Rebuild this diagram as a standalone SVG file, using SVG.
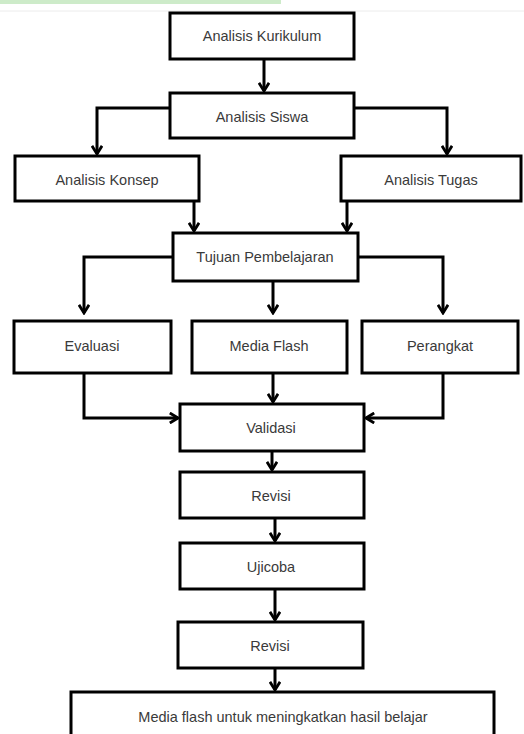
<svg xmlns="http://www.w3.org/2000/svg" width="524" height="734" viewBox="0 0 524 734">
<style>
.box{fill:#fff;stroke:#000;stroke-width:3}
.lbl{font-family:"Liberation Sans",Arial,sans-serif;font-size:14.5px;fill:#3a3a3a;text-anchor:middle}
.con{fill:none;stroke:#000;stroke-width:3;marker-end:url(#arr)}
</style>
<defs>
<marker id="arr" viewBox="0 0 10 10" refX="8.5" refY="5" markerWidth="4.2" markerHeight="4.2" orient="auto" markerUnits="strokeWidth">
<path d="M2,1 L8.5,5 L2,9" fill="none" stroke="#000" stroke-width="2.2"/>
</marker>
</defs>
<rect width="524" height="734" fill="#fff"/>
<rect x="0" y="0" width="281" height="4" fill="#cdebc9"/>
<line x1="0" y1="11" x2="524" y2="11" stroke="#ececec" stroke-width="1"/>
<g id="connectors">
<path class="con" d="M264,60 V91"/>
<path class="con" d="M170,108 H97 V154"/>
<path class="con" d="M354,108 H447 V154"/>
<path class="con" d="M194,201 V231"/>
<path class="con" d="M347,201 V231"/>
<path class="con" d="M173,257 H84 V313"/>
<path class="con" d="M273,281 V313"/>
<path class="con" d="M358,257 H443 V313"/>
<path class="con" d="M84,373 V418 H178"/>
<path class="con" d="M443,373 V418 H366"/>
<path class="con" d="M273,373 V402"/>
<path class="con" d="M272,451 V470"/>
<path class="con" d="M275,518 V541"/>
<path class="con" d="M275,589 V620"/>
<path class="con" d="M275,668 V690"/>
</g>
<g id="n-kurikulum"><rect class="box" x="170" y="13" width="184" height="46"/><text class="lbl" x="262" y="41">Analisis Kurikulum</text></g>
<g id="n-siswa"><rect class="box" x="170" y="93" width="184" height="45"/><text class="lbl" x="262" y="122">Analisis Siswa</text></g>
<g id="n-konsep"><rect class="box" x="15" y="156" width="184" height="45"/><text class="lbl" x="107" y="185">Analisis Konsep</text></g>
<g id="n-tugas"><rect class="box" x="341" y="156" width="180" height="45"/><text class="lbl" x="431" y="185">Analisis Tugas</text></g>
<g id="n-tujuan"><rect class="box" x="173" y="233" width="185" height="48"/><text class="lbl" x="265" y="262">Tujuan Pembelajaran</text></g>
<g id="n-evaluasi"><rect class="box" x="14" y="321" width="157" height="52"/><text class="lbl" x="92" y="351">Evaluasi</text></g>
<g id="n-media"><rect class="box" x="192" y="321" width="155" height="52"/><text class="lbl" x="269" y="351">Media Flash</text></g>
<g id="n-perangkat"><rect class="box" x="362" y="321" width="156" height="52"/><text class="lbl" x="440" y="351">Perangkat</text></g>
<g id="n-validasi"><rect class="box" x="180" y="404" width="184" height="47"/><text class="lbl" x="271" y="433">Validasi</text></g>
<g id="n-revisi1"><rect class="box" x="180" y="472" width="184" height="46"/><text class="lbl" x="271" y="501">Revisi</text></g>
<g id="n-ujicoba"><rect class="box" x="180" y="543" width="184" height="46"/><text class="lbl" x="271" y="572">Ujicoba</text></g>
<g id="n-revisi2"><rect class="box" x="178" y="622" width="185" height="46"/><text class="lbl" x="270" y="651">Revisi</text></g>
<g id="n-final"><rect class="box" x="71" y="692" width="423" height="60"/><text class="lbl" x="283" y="722">Media flash untuk meningkatkan hasil belajar</text></g>
</svg>
